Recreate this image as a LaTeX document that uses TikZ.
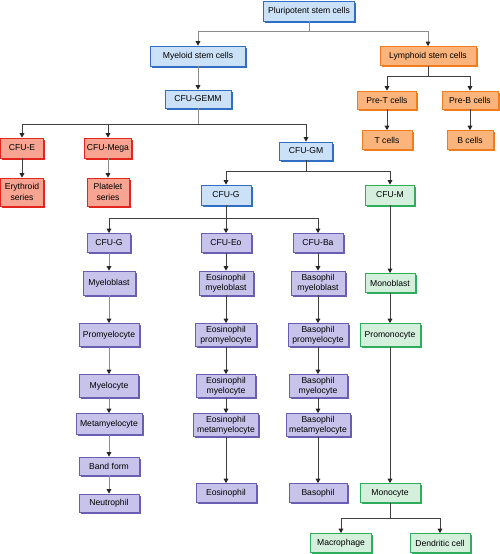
\documentclass[tikz,border=0pt]{standalone}
\usepackage{fontspec}
\setmainfont{Liberation Sans}
\usetikzlibrary{arrows.meta,shadows}
\definecolor{bfill}{HTML}{CBE1F7}\definecolor{bline}{HTML}{2F6EC2}
\definecolor{ofill}{HTML}{FAB47C}\definecolor{oline}{HTML}{F07C1E}
\definecolor{rfill}{HTML}{F7A592}\definecolor{rline}{HTML}{E2261C}
\definecolor{pfill}{HTML}{C7C3EA}\definecolor{pline}{HTML}{6A5EB2}
\definecolor{gfill}{HTML}{D4EFDC}\definecolor{gline}{HTML}{2EAE5C}
\definecolor{lightln}{HTML}{8C8C8C}\definecolor{darkln}{HTML}{404040}
\tikzset{
  box/.style={draw=#1, line width=0.6pt, inner sep=1pt, align=center,
    font=\fontsize{8.6}{10.2}\selectfont,
    drop shadow={shadow xshift=1.5pt, shadow yshift=-1.5pt, opacity=1, fill=#1}},
  bl/.style={box=bline, fill=bfill},
  og/.style={box=oline, fill=ofill},
  rd/.style={box=rline, fill=rfill},
  pu/.style={box=pline, fill=pfill},
  gr/.style={box=gline, fill=gfill},
  sz/.style 2 args={minimum width=#1pt, minimum height=#2pt},
  ln/.style={draw=darkln, line width=1pt},
  lnl/.style={draw=lightln, line width=1pt},
  ar/.style={ln, -{Triangle[length=4.5pt,width=4.6pt,fill=black!85,color=black!85]}},
  arl/.style={lnl, -{Triangle[length=4.5pt,width=4.6pt,fill=black!85,color=black!85]}},
}
\begin{document}
\begin{tikzpicture}[x=1pt,y=-1pt]
\useasboundingbox (0,0) rectangle (500,554);
% nodes
\node[bl,sz={91}{20}] (plur) at (309,11) {Pluripotent stem cells};
\node[bl,sz={95}{20}] (myel) at (198,56) {Myeloid stem cells};
\node[og,sz={96}{19}] (lymph) at (428,56) {Lymphoid stem cells};
\node[bl,sz={66}{18}] (gemm) at (198,99) {CFU-GEMM};
\node[og,sz={59}{18}] (pret) at (387,100) {Pre-T cells};
\node[og,sz={56}{18}] (preb) at (470,100) {Pre-B cells};
\node[og,sz={50}{19}] (tcell) at (387,140) {T cells};
\node[og,sz={46}{19}] (bcell) at (470,140) {B cells};
\node[rd,sz={43}{20}] (cfue) at (22,148) {CFU-E};
\node[rd,sz={47}{20}] (mega) at (108,148) {CFU-Mega};
\node[bl,sz={53}{18}] (gm) at (306,151) {CFU-GM};
\node[rd,sz={43}{28}] (ery) at (22,192) {Erythroid\\series};
\node[rd,sz={42}{28}] (plat) at (108,192) {Platelet\\series};
\node[bl,sz={50}{20}] (cfug) at (226,195) {CFU-G};
\node[gr,sz={49}{20}] (cfum) at (390,195) {CFU-M};
\node[pu,sz={43}{19}] (g2) at (109,243) {CFU-G};
\node[pu,sz={50}{19}] (eo) at (226,243) {CFU-Eo};
\node[pu,sz={50}{19}] (ba) at (318,243) {CFU-Ba};
\node[pu,sz={52}{24}] (myb) at (109,283) {Myeloblast};
\node[pu,sz={54}{24}] (eomyb) at (226,283) {Eosinophil\\myeloblast};
\node[pu,sz={54}{24}] (bamyb) at (318,283) {Basophil\\myeloblast};
\node[pu,sz={60}{23}] (promy) at (109,335) {Promyelocyte};
\node[pu,sz={61}{23}] (eopro) at (226,335) {Eosinophil\\promyelocyte};
\node[pu,sz={60}{23}] (bapro) at (318,335) {Basophil\\promyelocyte};
\node[pu,sz={59}{23}] (myc) at (109,386) {Myelocyte};
\node[pu,sz={59}{23}] (eomyc) at (226,386) {Eosinophil\\myelocyte};
\node[pu,sz={58}{23}] (bamyc) at (318,386) {Basophil\\myelocyte};
\node[pu,sz={66}{21}] (meta) at (109,424) {Metamyelocyte};
\node[pu,sz={65}{23}] (eometa) at (226,425) {Eosinophil\\metamyelocyte};
\node[pu,sz={64}{23}] (bameta) at (318,425) {Basophil\\metamyelocyte};
\node[pu,sz={60}{18}] (band) at (109,466) {Band form};
\node[pu,sz={60}{18}] (neut) at (109,503) {Neutrophil};
\node[pu,sz={60}{19}] (eos) at (226,493) {Eosinophil};
\node[pu,sz={58}{19}] (bas) at (318,493) {Basophil};
\node[gr,sz={50}{19}] (monob) at (390,283) {Monoblast};
\node[gr,sz={60}{23}] (promo) at (390,335) {Promonocyte};
\node[gr,sz={60}{19}] (mono) at (390,493) {Monocyte};
\node[gr,sz={61}{19}] (macro) at (341,543) {Macrophage};
\node[gr,sz={60}{19}] (dend) at (440,543) {Dendritic cell};
% junctions
\coordinate (j1) at (309,31);
\coordinate (j2) at (428,76);
\coordinate (j3) at (198,124);
\coordinate (j4) at (306,171);
\coordinate (j5) at (226,218);
\coordinate (j6) at (390,518);
% connectors
\draw[lnl] (plur) -- (j1);
\draw[arl] (j1) -| (myel);
\draw[arl] (j1) -| (lymph);
\draw[arl] (myel) -- (gemm);
\draw[ln] (lymph) -- (j2);
\draw[ar] (j2) -| (pret);
\draw[ar] (j2) -| (preb);
\draw[ar] (pret) -- (tcell);
\draw[ar] (preb) -- (bcell);
\draw[lnl] (gemm) -- (j3);
\draw[ar] (j3) -| (cfue);
\draw[ar] (j3) -| (mega);
\draw[ar] (j3) -| (gm);
\draw[ar] (cfue) -- (ery);
\draw[arl] (mega) -- (plat);
\draw[ln] (gm) -- (j4);
\draw[ar] (j4) -| (cfug);
\draw[ar] (j4) -| (cfum);
\draw[ln] (cfug) -- (j5);
\draw[ar] (j5) -| (g2);
\draw[ar] (j5) -- (eo);
\draw[ar] (j5) -| (ba);
\draw[arl] (g2) -- (myb);
\draw[arl] (myb) -- (promy);
\draw[arl] (promy) -- (myc);
\draw[arl] (myc) -- (meta);
\draw[arl] (meta) -- (band);
\draw[arl] (band) -- (neut);
\draw[ar] (eo) -- (eomyb);
\draw[ar] (eomyb) -- (eopro);
\draw[ar] (eopro) -- (eomyc);
\draw[ar] (eomyc) -- (eometa);
\draw[ar] (eometa) -- (eos);
\draw[ar] (ba) -- (bamyb);
\draw[ar] (bamyb) -- (bapro);
\draw[ar] (bapro) -- (bamyc);
\draw[ar] (bamyc) -- (bameta);
\draw[ar] (bameta) -- (bas);
\draw[ar] (cfum) -- (monob);
\draw[ar] (monob) -- (promo);
\draw[ar] (promo) -- (mono);
\draw[ln] (mono) -- (j6);
\draw[ar] (j6) -| (macro);
\draw[ar] (j6) -| (dend);
\end{tikzpicture}
\end{document}
